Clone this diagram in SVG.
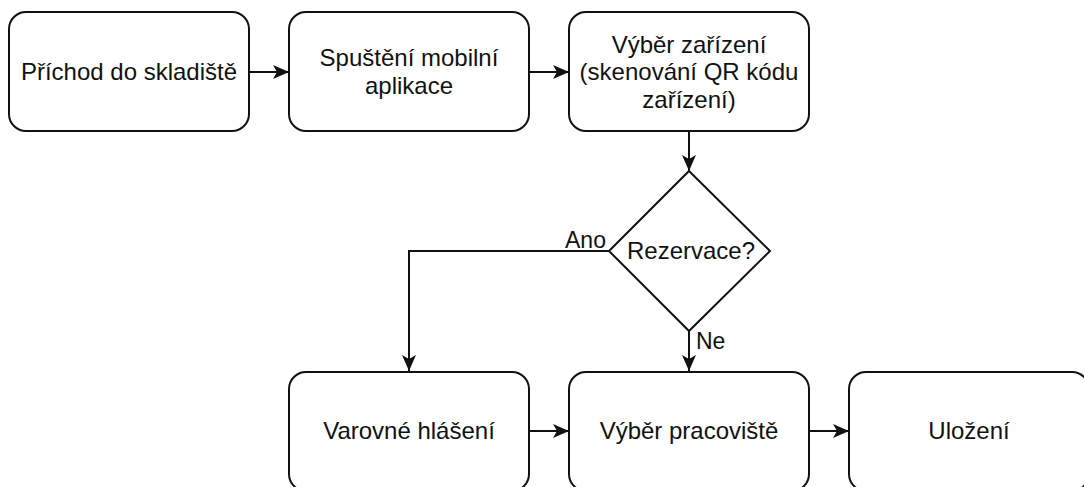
<svg xmlns="http://www.w3.org/2000/svg" width="1084" height="487" viewBox="0 0 1084 487">
  <defs>
    <marker id="arr" viewBox="0 0 16 14" refX="16" refY="7" markerWidth="16" markerHeight="14" markerUnits="userSpaceOnUse" orient="auto">
      <path d="M0,0 L16,7 L0,14 L4,7 Z" fill="#111"/>
    </marker>
    <style>
      .box { fill: #fff; stroke: #111; stroke-width: 2; }
      .lbl { font-family: "Liberation Sans", Arial, sans-serif; font-size: 24px; fill: #111; text-anchor: middle; }
      .elbl { font-family: "Liberation Sans", Arial, sans-serif; font-size: 23px; fill: #111; }
      .edge { fill: none; stroke: #111; stroke-width: 2; marker-end: url(#arr); }
    </style>
  </defs>
  <rect width="1084" height="487" fill="#fff"/>
  <g id="connectors">
    <line class="edge" x1="250" y1="72" x2="289" y2="72"/>
    <line class="edge" x1="530" y1="72" x2="569" y2="72"/>
    <line class="edge" x1="689" y1="132" x2="689" y2="171"/>
    <path class="edge" d="M609,251 H409 V371"/>
    <line class="edge" x1="689" y1="331" x2="689" y2="371"/>
    <line class="edge" x1="530" y1="431" x2="569" y2="431"/>
    <line class="edge" x1="810" y1="431" x2="849" y2="431"/>
    <text class="elbl" x="565" y="248">Ano</text>
    <text class="elbl" x="696" y="349">Ne</text>
  </g>
  <g id="n1">
    <rect class="box" x="9" y="12" width="240" height="119" rx="17" ry="17"/>
    <text class="lbl" x="129" y="80">Příchod do skladiště</text>
  </g>
  <g id="n2">
    <rect class="box" x="289" y="12" width="240" height="119" rx="17" ry="17"/>
    <text class="lbl" x="409" y="66">Spuštění mobilní</text>
    <text class="lbl" x="409" y="94">aplikace</text>
  </g>
  <g id="n3">
    <rect class="box" x="569" y="12" width="240" height="119" rx="17" ry="17"/>
    <text class="lbl" x="689" y="53">Výběr zařízení</text>
    <text class="lbl" x="689" y="80">(skenování QR kódu</text>
    <text class="lbl" x="689" y="108">zařízení)</text>
  </g>
  <g id="n4">
    <polygon class="box" points="689,171 770,251 689,331 609,251"/>
    <text class="lbl" x="691" y="259">Rezervace?</text>
  </g>
  <g id="n5">
    <rect class="box" x="289" y="372" width="240" height="119" rx="17" ry="17"/>
    <text class="lbl" x="409" y="439">Varovné hlášení</text>
  </g>
  <g id="n6">
    <rect class="box" x="569" y="372" width="240" height="119" rx="17" ry="17"/>
    <text class="lbl" x="689" y="439">Výběr pracoviště</text>
  </g>
  <g id="n7">
    <rect class="box" x="849" y="372" width="240" height="119" rx="17" ry="17"/>
    <text class="lbl" x="969" y="439">Uložení</text>
  </g>
</svg>
